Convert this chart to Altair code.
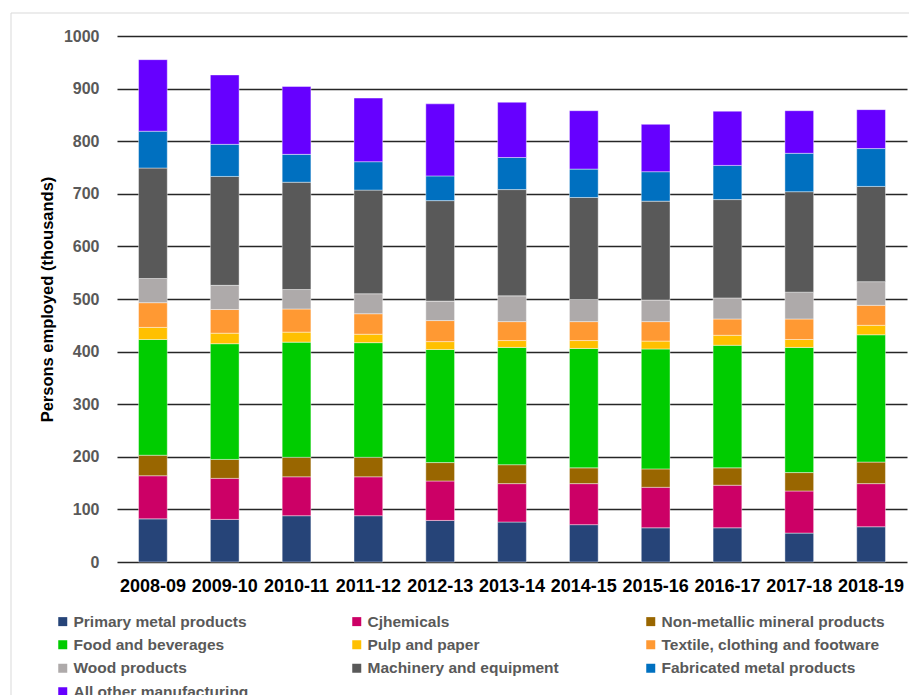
import altair as alt
import pandas as pd

years = ["2008-09", "2009-10", "2010-11", "2011-12", "2012-13", "2013-14",
         "2014-15", "2015-16", "2016-17", "2017-18", "2018-19"]

series = ["Primary metal products", "Cjhemicals", "Non-metallic mineral products",
          "Food and beverages", "Pulp and paper", "Textile, clothing and footware",
          "Wood products", "Machinery and equipment", "Fabricated metal products",
          "All other manufacturing"]

colors = ["#264478", "#CC0066", "#996600", "#00CC00", "#FFC000",
          "#FF9933", "#AEAAAA", "#595959", "#0070C0", "#6600FF"]

primary_metal = [82, 81, 88, 88, 79, 76, 71, 65, 65, 55, 67]
chemicals = [82, 78, 74, 74, 75, 73, 78, 77, 81, 80, 82]
non_metallic = [39, 36, 37, 37, 35, 36, 30, 35, 33, 35, 41]
food_bev = [220, 220, 219, 218, 215, 223, 227, 228, 233, 238, 242]
pulp_paper = [23, 20, 19, 16, 15, 13, 15, 15, 19, 15, 18]
textile = [47, 45, 44, 39, 40, 36, 36, 37, 31, 39, 38]
wood = [46, 46, 37, 38, 37, 49, 42, 41, 40, 51, 45]
machinery = [210, 207, 204, 197, 191, 202, 194, 188, 187, 191, 181]
fabricated = [70, 61, 53, 54, 47, 61, 54, 56, 65, 73, 72]
other = [136, 132, 129, 121, 137, 105, 111, 90, 103, 81, 74]

all_values = [primary_metal, chemicals, non_metallic, food_bev, pulp_paper,
              textile, wood, machinery, fabricated, other]

rows = []
for i, (name, vals) in enumerate(zip(series, all_values)):
    for yr, v in zip(years, vals):
        rows.append({"Year": yr, "Industry": name, "Value": v, "idx": i})
df = pd.DataFrame(rows)

FONT = "Liberation Sans"

bars = alt.Chart(df).mark_bar(
    stroke="white", strokeWidth=0.6, strokeOpacity=0.7
).encode(
    x=alt.X("Year:N", sort=years,
            scale=alt.Scale(paddingInner=0.6, paddingOuter=0.3),
            axis=alt.Axis(title=None, labelAngle=0, labelFont=FONT,
                          labelFontSize=18, labelFontWeight="bold",
                          labelColor="black", labelPadding=15,
                          domain=False, ticks=False, grid=False)),
    y=alt.Y("Value:Q", stack="zero",
            scale=alt.Scale(domain=[0, 1000], nice=False),
            axis=alt.Axis(values=list(range(0, 1001, 100)), format="d",
                          title="Persons employed (thousands)",
                          titleFont=FONT, titleFontSize=16.5,
                          titleFontWeight="bold", titleColor="black",
                          titlePadding=8,
                          labelFont=FONT, labelFontSize=16,
                          labelFontWeight="bold", labelColor="#595959",
                          labelPadding=18, domain=False, ticks=False,
                          grid=True, gridColor="#262626", gridWidth=1.5)),
    color=alt.Color("Industry:N", sort=series,
                    scale=alt.Scale(domain=series, range=colors),
                    legend=alt.Legend(
                        title=None, orient="none", legendX=-62, legendY=577.5,
                        direction="horizontal",
                        columns=3, gridAlign="all", columnPadding=52,
                        rowPadding=6.5, symbolType="square", symbolSize=81,
                        symbolStrokeWidth=0, labelFont=FONT,
                        labelFontSize=15.5, labelFontWeight="bold",
                        labelColor="#595959", labelOffset=3,
                        labelLimit=400, padding=0, offset=0)),
    order=alt.Order("idx:Q", sort="ascending"),
)

frame = alt.Chart(pd.DataFrame({"a": [0]})).mark_rect(
    fill=None, stroke="#d9d9d9", strokeWidth=1
).encode(
    x=alt.value(-106), x2=alt.value(820),
    y=alt.value(-23), y2=alt.value(720),
)

chart = alt.layer(frame, bars).properties(
    width=790, height=526,
    autosize=alt.AutoSizeParams(type="none"),
    padding={"left": 117, "top": 36, "right": 2, "bottom": 133},
    background="white",
).configure_view(stroke=None)

chart.save("out.html", embed_options={"renderer": "svg", "actions": False})
